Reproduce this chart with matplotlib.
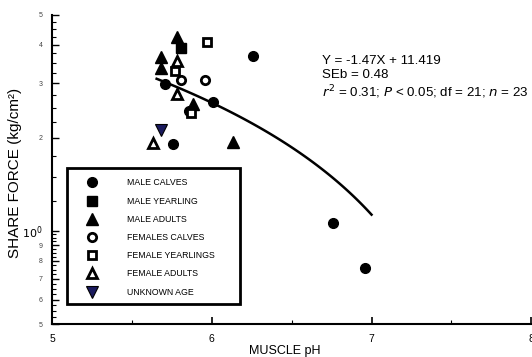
import matplotlib
matplotlib.use("Agg")
import matplotlib.pyplot as plt
from matplotlib.patches import Rectangle
import numpy as np

plt.rcParams['font.family'] = ['Liberation Sans', 'DejaVu Sans']

# donnees (pH, force kg/cm2)
male_calves_x = [5.71, 5.76, 6.01, 6.26, 5.86, 6.76, 6.96]
male_calves_y = [2.99, 1.91, 2.61, 3.68, 2.45, 1.06, 0.76]
male_yearling_x = [5.81]
male_yearling_y = [3.91]
male_adults_x = [5.78, 5.68, 5.68, 5.88, 6.13]
male_adults_y = [4.24, 3.66, 3.37, 2.58, 1.94]
female_calves_x = [5.81, 5.96]
female_calves_y = [3.08, 3.08]
female_yearlings_x = [5.97, 5.77, 5.87]
female_yearlings_y = [4.09, 3.30, 2.41]
female_adults_x = [5.78, 5.78, 5.63]
female_adults_y = [3.55, 2.77, 1.93]
unknown_x = [5.68]
unknown_y = [2.12]

# droite de regression Y = -1.47X + 11.419
slope = -1.47
intercept = 11.419
fit_x = np.linspace(5.655, 7.0, 100)
fit_y = slope * fit_x + intercept

ytick_vals = [0.5, 0.6, 0.7, 0.8, 0.9, 1, 2, 3, 4, 5]
ytick_labels = ["5", "6", "7", "8", "9", "$10^0$", "2", "3", "4", "5"]
xtick_vals = [5, 6, 7, 8]

fig = plt.figure(figsize=(5.32, 3.57), dpi=100)
ax = fig.add_axes([0.0977, 0.0924, 0.901, 0.866])

ms = 7
ax.plot(fit_x, fit_y, color="black", lw=1.8, zorder=1)
ax.plot(male_calves_x, male_calves_y, "o", color="black", ms=ms, label="MALE CALVES")
ax.plot(male_yearling_x, male_yearling_y, "s", color="black", ms=ms - 0.5, label="MALE YEARLING")
ax.plot(male_adults_x, male_adults_y, "^", color="black", ms=ms + 1, label="MALE ADULTS")
ax.plot(female_calves_x, female_calves_y, "o", mfc="white", mec="black", mew=2, ms=ms - 1, label="FEMALES CALVES")
ax.plot(female_yearlings_x, female_yearlings_y, "s", mfc="white", mec="black", mew=2, ms=ms - 1, label="FEMALE YEARLINGS")
ax.plot(female_adults_x, female_adults_y, "^", mfc="white", mec="black", mew=2, ms=ms, label="FEMALE ADULTS")
ax.plot(unknown_x, unknown_y, "v", color="#1a1a5e", mec="black", mew=0.8, ms=ms + 1, label="UNKNOWN AGE")

ax.set_yscale("log")
ax.set_ylim(0.5, 5)
ax.set_xlim(5, 8)

ax.set_yticks(ytick_vals)
ax.set_yticklabels(ytick_labels)
minor_y = list(np.arange(0.525, 1.0, 0.025)) + [1.25, 1.5, 1.75, 2.25, 2.5, 2.75, 3.25, 3.5, 3.75, 4.25, 4.5, 4.75]
ax.set_yticks(minor_y, minor=True)
ax.set_yticklabels([], minor=True)
ax.set_xticks(xtick_vals)
ax.set_xticks([5.5, 6.5, 7.5], minor=True)

for lbl in ax.get_yticklabels():
    lbl.set_fontsize(5)
    lbl.set_color("#444444")
ax.get_yticklabels()[5].set_fontsize(8)
ax.get_yticklabels()[5].set_color("black")

ax.tick_params(axis="y", which="major", direction="in", length=5, width=1, pad=7)
ax.tick_params(axis="y", which="minor", direction="in", length=3, width=0.8)
ax.tick_params(axis="x", which="major", direction="in", length=5, width=1.2, labelsize=7.5, pad=7)
ax.tick_params(axis="x", which="minor", direction="in", length=3, width=0.8)

for side in ["top", "right"]:
    ax.spines[side].set_visible(False)
ax.spines["left"].set_linewidth(1.5)
ax.spines["bottom"].set_linewidth(1.5)

ax.set_ylabel("SHARE FORCE (kg/cm²)", fontsize=11)
ax.yaxis.set_label_coords(-0.062, 0.49)
ax.set_xlabel("MUSCLE pH", fontsize=9)
ax.xaxis.set_label_coords(0.485, -0.068)

fig.text(0.605, 0.845, "Y = -1.47X + 11.419\nSEb = 0.48\n$r^2$ = 0.31; $P$ < 0.05; df = 21; $n$ = 23",
         fontsize=9.6, va="top", ha="left", linespacing=1.2)

# cadre de la legende
ax.add_patch(Rectangle((0.0313, 0.0647), 0.361, 0.440, transform=ax.transAxes,
                       fill=True, facecolor="white", edgecolor="black", lw=2, zorder=3))
leg = ax.legend(loc="upper left", bbox_to_anchor=(0.055, 0.485), fontsize=6.3,
                frameon=False, borderpad=0.5, labelspacing=1.05, handletextpad=2.9,
                borderaxespad=0, handlelength=2.2)
leg.set_zorder(4)

fig.savefig("out.png", dpi=100)
